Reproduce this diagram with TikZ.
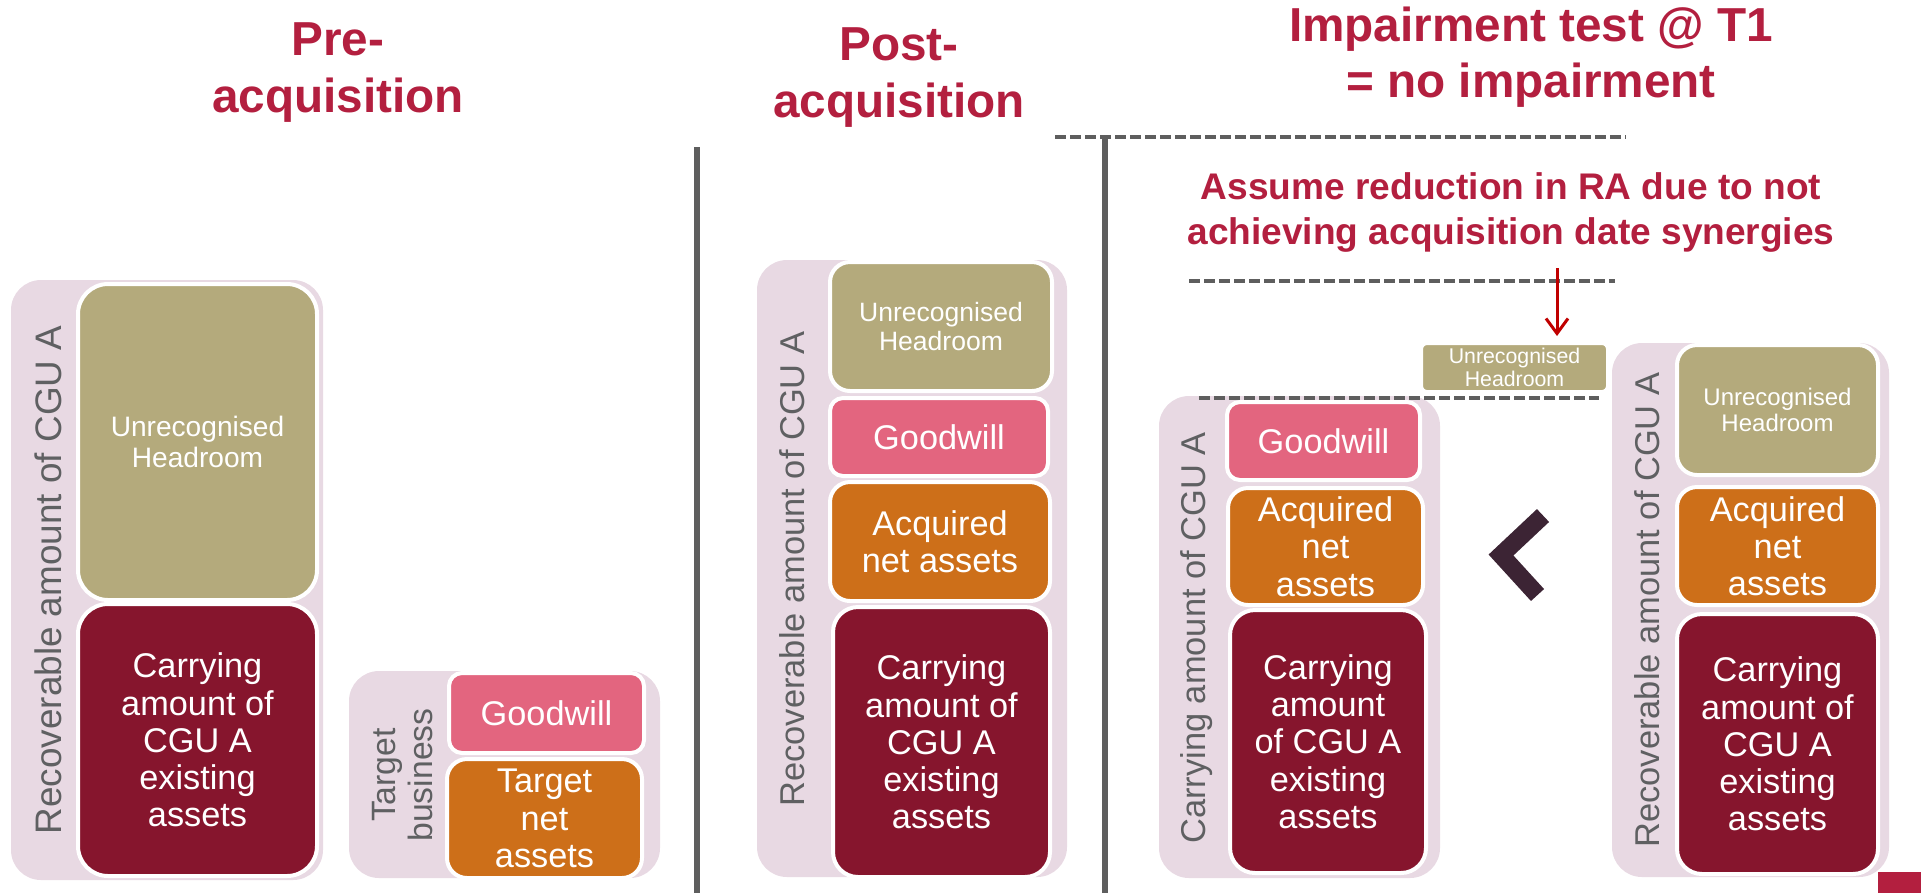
\documentclass[tikz,border=0pt]{standalone}
\usepackage{fontspec}
\setmainfont{Liberation Sans}
\usetikzlibrary{arrows.meta}
\definecolor{titlered}{HTML}{B31F3F}
\definecolor{panelpink}{HTML}{E8D9E3}
\definecolor{headroom}{HTML}{B4AA7C}
\definecolor{goodwill}{HTML}{E3657F}
\definecolor{netassets}{HTML}{CD6F19}
\definecolor{carrying}{HTML}{86152D}
\definecolor{labelgray}{HTML}{5F6062}
\definecolor{linegray}{HTML}{5E5E5E}
\definecolor{arrowred}{HTML}{C00000}
\definecolor{chevron}{HTML}{3C2434}
\tikzset{
    sz/.style 2 args={minimum width=#1mm, minimum height=#2mm},
    panel/.style={fill=panelpink, rounded corners=3mm, inner sep=0pt},
    blk/.style={draw=white, line width=0.4mm, rounded corners=2mm, text=white, align=center, inner sep=0pt, font=\fontsize{9.76}{10.6}\selectfont},
    hr/.style={blk, fill=headroom},
    gw/.style={blk, fill=goodwill, rounded corners=1.3mm},
    na/.style={blk, fill=netassets},
    ca/.style={blk, fill=carrying, rounded corners=2.5mm},
    lbl/.style={rotate=90, text=labelgray, inner sep=0pt, font=\fontsize{9.8}{10.5}\selectfont},
    title/.style={text=titlered, align=center, inner sep=0pt, font=\bfseries\fontsize{13.57}{16.4}\selectfont},
    divider/.style={linegray, line width=0.6mm},
    level/.style={linegray, line width=0.35mm, dash pattern=on 1.1mm off 0.4mm}
}
\begin{document}
\begin{tikzpicture}[x=0.1mm, y=-0.1mm]
        \useasboundingbox (0,0) rectangle (1921,893);
        \node [title] (pre) at (338,72.5) {Pre-\\acquisition};
        \node [title] (post) at (899,77.5) {Post-\\acquisition};
        \node [title, font=\bfseries\fontsize{13.57}{16}\selectfont] (test) at (1531,57.5) {Impairment test @ T1\\= no impairment};
        \node [title, font=\bfseries\fontsize{10.55}{12.9}\selectfont] (assume) at (1511,212.5) {Assume reduction in RA due to not\\achieving acquisition date synergies};
        \draw [divider] (697,147) -- (697,893);
        \draw [divider] (1105,139) -- (1105,893);
        \draw [level] (1055,137) -- (1626,137);
        \draw [level] (1189,281) -- (1615,281);
        \node [panel, sz={31.2}{60}] (bgA) at (167,580) {};
        \node [hr, sz={23.9}{31.6}, rounded corners=3mm, font=\fontsize{8}{8.8}\selectfont] (hrA) at (197.5,442) {Unrecognised\\Headroom};
        \node [ca, sz={23.9}{27.2}, rounded corners=3mm] (caA) at (197.5,740) {Carrying\\amount of\\CGU A\\existing\\assets};
        \node [lbl, font=\fontsize{10.5}{11}\selectfont] (raA) at (48,580) {Recoverable amount of CGU A};
        \node [panel, sz={31.1}{20.7}] (bgT) at (504.5,774.5) {};
        \node [gw, sz={19.5}{8.0}] (gwT) at (546.5,713) {Goodwill};
        \node [na, sz={19.5}{11.9}] (naT) at (544.5,818.5) {Target\\net\\assets};
        \node [lbl, align=center, font=\fontsize{9.6}{10.5}\selectfont] (tb) at (402.5,775) {Target\\business};
        \node [panel, sz={31.0}{61.7}] (bgP) at (912,568.5) {};
        \node [hr, sz={22.2}{12.9}, font=\fontsize{7.55}{8.15}\selectfont] (hrP) at (941,326.5) {Unrecognised\\Headroom};
        \node [gw, sz={21.8}{7.8}] (gwP) at (939,437) {Goodwill};
        \node [na, sz={22.0}{11.9}] (naP) at (940,541.5) {Acquired\\net assets};
        \node [ca, sz={21.7}{27.0}] (caP) at (941.5,742) {Carrying\\amount of\\CGU A\\existing\\assets};
        \node [lbl] (raP) at (792,569) {Recoverable amount of CGU A};
        \node [panel, sz={28.1}{48.2}] (bgC) at (1299.5,637) {};
        \node [gw, sz={19.3}{7.8}] (gwC) at (1323.5,441) {Goodwill};
        \node [na, sz={19.5}{11.7}] (naC) at (1325.5,546.5) {Acquired\\net\\assets};
        \node [ca, sz={19.6}{26.3}] (caC) at (1328,741.5) {Carrying\\amount\\of CGU A\\existing\\assets};
        \node [lbl] (caL) at (1197,638) {Carrying amount of CGU A};
        \node [panel, sz={27.7}{53.4}] (bgR) at (1750.5,610) {};
        \node [hr, sz={20.1}{13.0}, font=\fontsize{6.83}{7.3}\selectfont] (hrR) at (1777.5,410) {Unrecognised\\Headroom};
        \node [na, sz={20.1}{11.8}] (naR) at (1777.5,546) {Acquired\\net\\assets};
        \node [ca, sz={20.1}{26.0}] (caR) at (1777.5,744) {Carrying\\amount of\\CGU A\\existing\\assets};
        \node [lbl] (raR) at (1647,610) {Recoverable amount of CGU A};
        \node [hr, sz={18.7}{4.9}, rounded corners=0.6mm, font=\fontsize{6.06}{6.45}\selectfont] (hrS) at (1514.5,367.5) {Unrecognised\\Headroom};
        \draw [level] (1199,398) -- (1599,398);
        \coordinate (drop) at (1557,268);
        \draw [arrowred, line width=0.3mm, -{Straight Barb[length=1.5mm,width=2.2mm]}, shorten >=0.5mm] (drop) -- (drop |- hrS.north);
        \draw [chevron, line width=1.77mm] (1543,515.5) -- (1501,555) -- (1537.5,595);
        \fill [titlered] (1878,872) rectangle (1921,893);
\end{tikzpicture}
\end{document}
